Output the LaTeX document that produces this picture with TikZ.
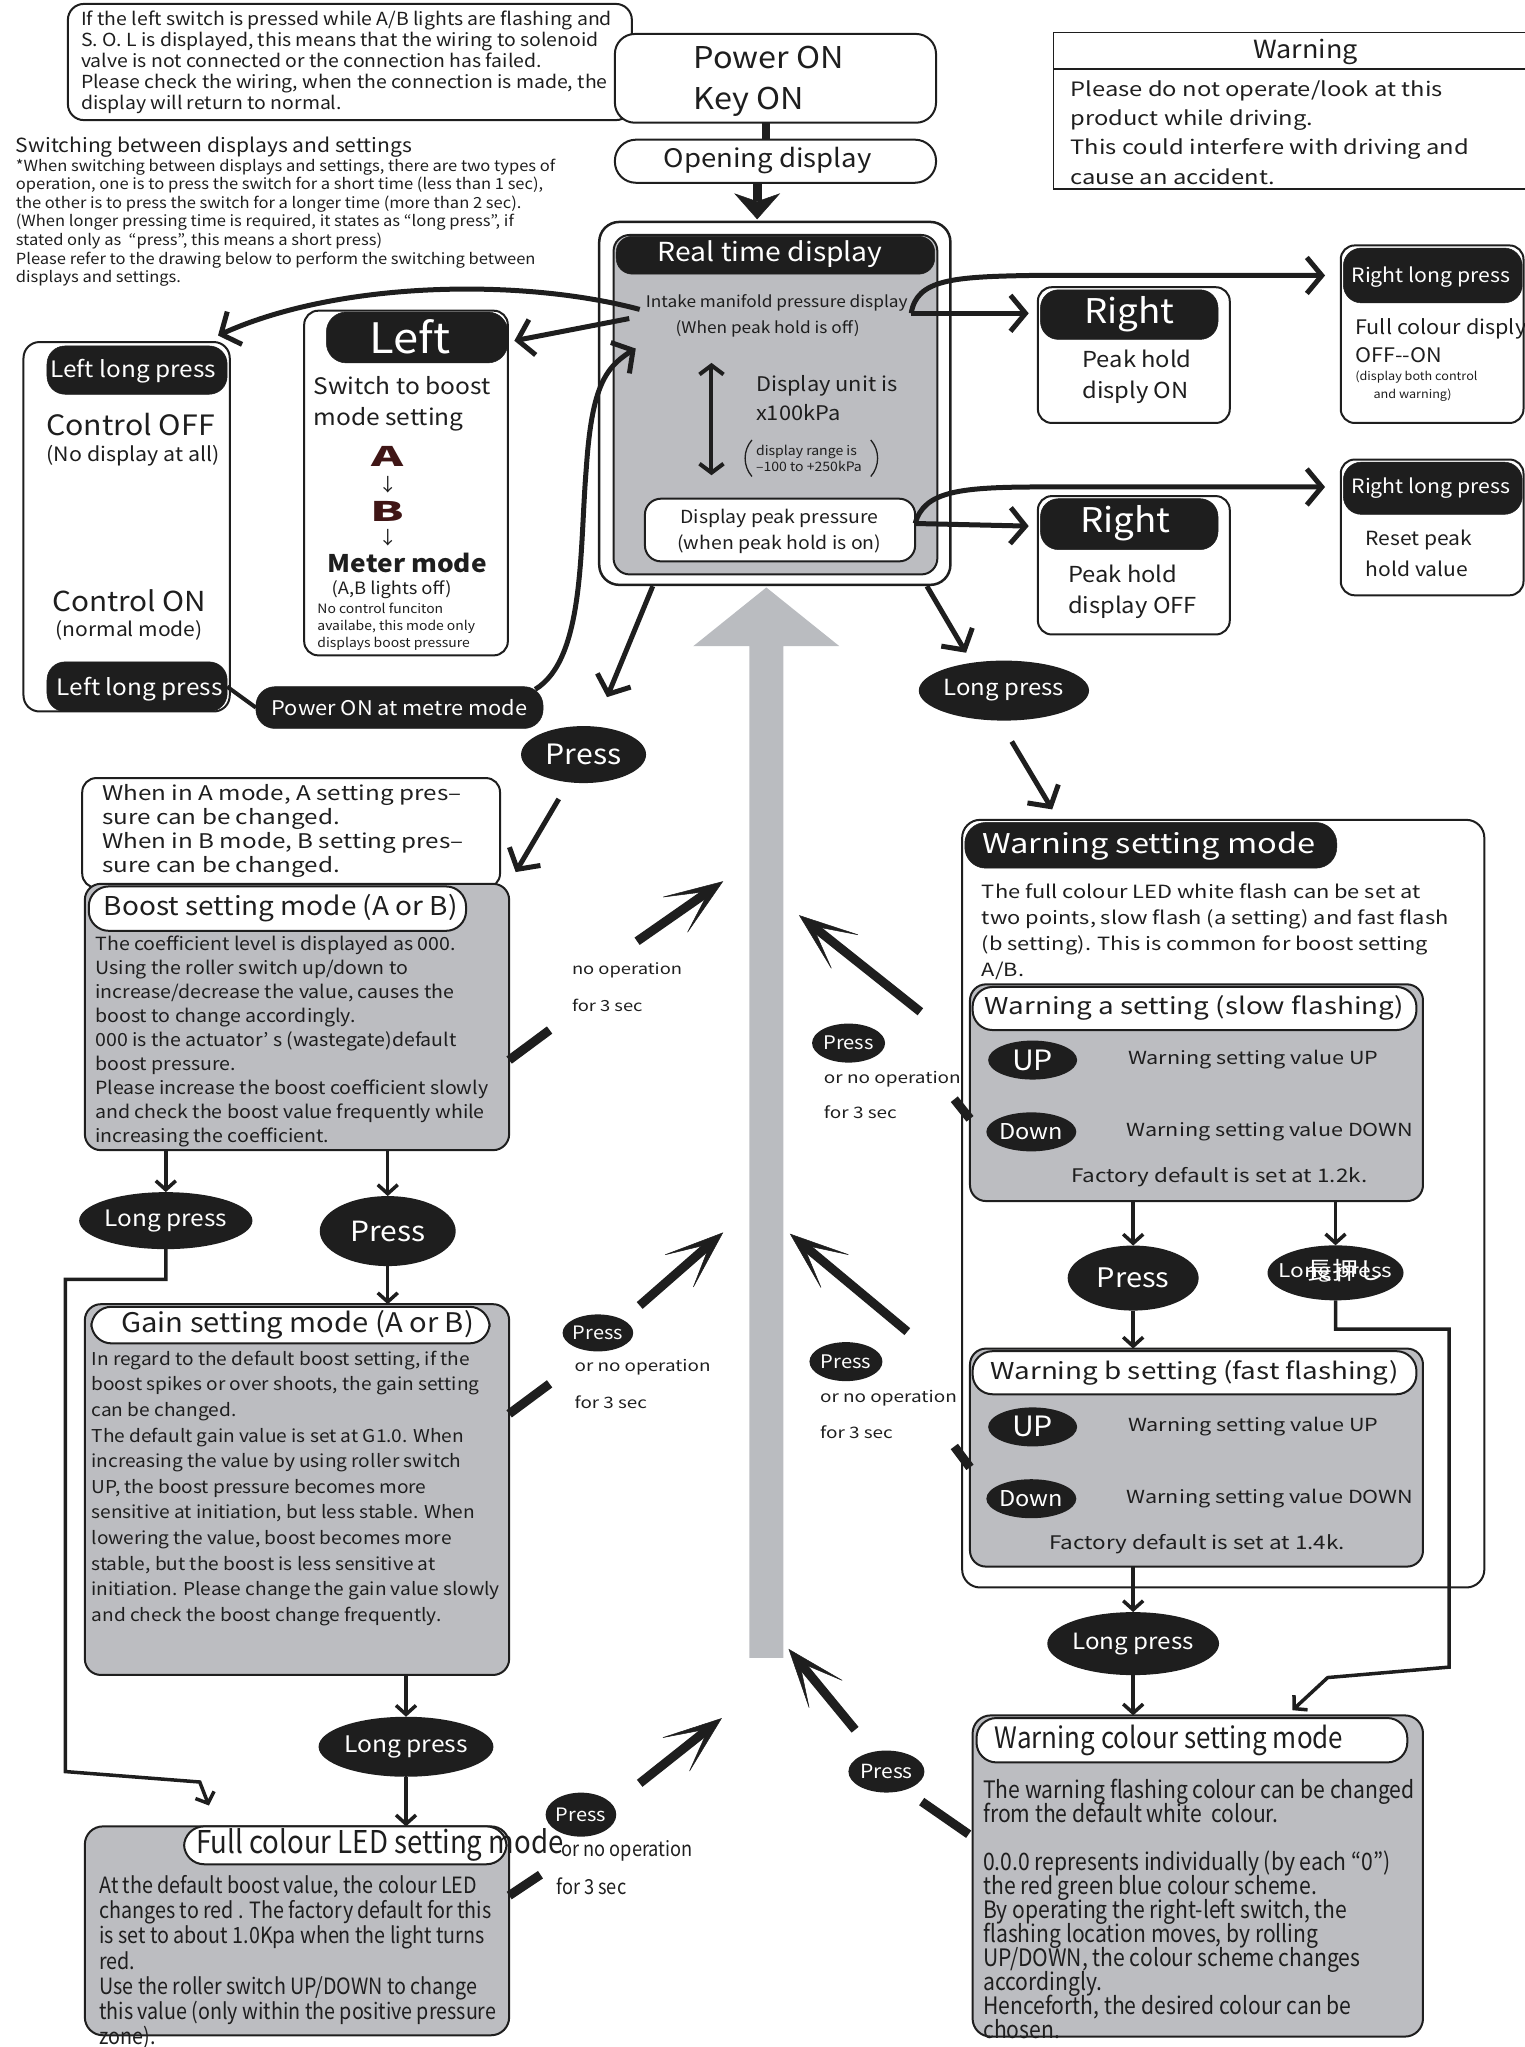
\documentclass[tikz,border=0pt]{standalone}
\usepackage{fontspec}
\setmainfont{Noto Sans CJK JP}[FakeStretch=1.08]
\newfontfamily\wide{Noto Sans CJK JP}[FakeStretch=1.2]
\newfontfamily\cond{Noto Sans CJK JP}[FakeStretch=0.88]
\newfontfamily\xw{Noto Sans CJK JP}[FakeStretch=1.8]
\usetikzlibrary{arrows.meta,fit,shapes.geometric,calc}
\newcommand\fs[2]{\fontsize{#1pt}{#2pt}\selectfont\lineskiplimit=-100pt\lineskip=0pt\relax}
\definecolor{ink}{RGB}{30,30,30}
\definecolor{gboxc}{RGB}{188,189,193}
\definecolor{gshaft}{RGB}{186,188,192}
\definecolor{abred}{RGB}{64,22,22}
\tikzset{
 bx/.style={draw=ink, line width=2pt, rounded corners=14pt, inner sep=0pt, outer sep=0pt, fill=white},
 gb/.style={bx, fill=gboxc},
 bk/.style={fill=ink, draw=ink, line width=0.5pt, inner sep=0pt, outer sep=0pt, rounded corners=18pt},
 pl/.style={bx, rounded corners=20pt},
 tx/.style={inner sep=0pt, text=ink, align=left},
 tc/.style={inner sep=0pt, text=ink, align=center},
 wt/.style={inner sep=0pt, text=white, align=center},
 ov/.style={ellipse, fill=ink, inner sep=0pt, outer sep=0pt, text=white},
 fl/.style={line width=3.5pt, draw=ink, -{Straight Barb[length=9pt,width=20pt]}},
 cv/.style={line width=5pt, draw=ink, -{Straight Barb[length=15pt,width=36pt]}},
 barline/.style={line width=9pt, draw=ink},
 bigarr/.style={line width=9pt, draw=ink, -{Stealth[length=62pt,width=46pt,inset=44pt,line width=0.5pt]}},
}
\begin{document}
\begin{tikzpicture}[x=1.3057pt,y=-1.3057pt]
\useasboundingbox (0,0) rectangle (1168,1568);

% big grey arrow
\fill[gshaft] (574,1270) -- (574,495) -- (531,495) -- (587,450) -- (643,495) -- (600,495) -- (600,1270) -- cycle;

% top note
\node[bx, rounded corners=16pt, fit={(52,3)(484,92)}] (note) {};
\node[tx, anchor=west, font=\fs{18}{21}] (notet) at (62,48) {If the left switch is pressed while A/B lights are flashing and\\S. O. L is displayed, this means that the wiring to solenoid\\valve is not connected or the connection has failed.\\Please check the wiring, when the connection is made, the\\display will return to normal.};

% power / opening
\node[bx, rounded corners=20pt, fit={(471,26)(717,94)}] (power) {};
\node[tx, anchor=west, font=\fs{30}{41}] (powert) at (531,62) {Power ON\\Key ON};
\node[bx, rounded corners=21pt, fit={(471,107)(717,140)}] (opening) {};
\node[tc, font=\fs{25.5}{30}] (openingt) at (588,123) {Opening display};
\coordinate (pwc) at (587,100);
\draw[line width=8pt, draw=ink] (power.south -| pwc) -- (opening.north -| pwc);
\coordinate (rtarr) at (580,168);
\draw[line width=9pt, draw=ink, -{Stealth[length=26pt,width=46pt,inset=8pt,line width=0.5pt]}] (opening.south -| rtarr) -- (rtarr);

% warning box
\node[draw=ink, line width=1.6pt, inner sep=0pt, fit={(807,25)(1175,145)}] (warn) {};
\draw[line width=1.6pt, draw=ink] (807,53) -- (1175,53);
\node[tc, font=\fs{25}{28}] (warnt) at (1000,40) {Warning};
\node[tx, anchor=west, font=\wide\fs{19.8}{29.4}] (warnb) at (820,101.5) {Please do not operate/look at this\\product while driving.\\This could interfere with driving and\\cause an accident.};

% switching text
\node[tx, anchor=west, font=\fs{19.5}{24}] (swh) at (12,113) {Switching between displays and settings};
\node[tx, anchor=west, font=\fs{15.3}{18.6}] (swt) at (12,170.5) {*When switching between displays and settings, there are two types of\\operation, one is to press the switch for a short time (less than 1 sec),\\the other is to press the switch for a longer time (more than 2 sec).\\(When longer pressing time is required, it states as “long press”, if\\stated only as \ “press”, this means a short press)\\Please refer to the drawing below to perform the switching between\\displays and settings.};

% real time display
\node[bx, line width=2.5pt, rounded corners=20pt, fit={(459,170)(728,448)}] (rtout) {};
\node[gb, rounded corners=16pt, fit={(470,180)(718,440)}] (rtin) {};
\node[bk, rounded corners=16pt, fit={(472,181)(716,210)}] (rthead) {};
\node[wt, font=\fs{26.2}{30}] (rtt) at (590,195) {Real time display};
\node[tc, font=\fs{16}{20}] (intake) at (595,232) {Intake manifold pressure display};
\node[tc, font=\fs{16}{20}] (intake2) at (588,252) {(When peak hold is off)};
\coordinate (dA) at (545,278); \coordinate (dB) at (545,364);
\draw[line width=4pt, draw=ink, {Straight Barb[length=9pt,width=24pt]}-{Straight Barb[length=9pt,width=24pt]}] (dA) -- (dB);
\node[tx, anchor=west, font=\fs{20.2}{28.7}] (unit) at (579,305) {Display unit is\\x100kPa};
\node[tx, anchor=west, font=\fs{13}{15.5}] (range) at (579,351) {display range is\\–100 to +250kPa};
\draw[line width=1.3pt, draw=ink] (576,337) .. controls (569,345) and (569,357) .. (576,365);
\draw[line width=1.3pt, draw=ink] (667,337) .. controls (674,345) and (674,357) .. (667,365);
\node[bx, rounded corners=16pt, fit={(494,382)(701,430)}] (peak) {};
\node[tc, font=\fs{18}{26}] (peakt) at (597,407) {Display peak pressure\\(when peak hold is on)};

% right boxes
\node[bx, fit={(795,220)(942,324)}] (r1) {};
\node[bk, fit={(797,222)(933,260)}] (r1h) {};
\node[wt, font=\fs{34}{38}] (r1t) at (865,241) {Right};
\node[tx, anchor=west, font=\fs{22}{31}] (r1b) at (829,289) {Peak hold\\disply ON};
\node[bx, fit={(795,380)(942,486)}] (r2) {};
\node[bk, fit={(797,382)(933,421)}] (r2h) {};
\node[wt, font=\fs{34}{38}] (r2t) at (862,401) {Right};
\node[tx, anchor=west, font=\fs{22}{31}] (r2b) at (818,453.5) {Peak hold\\display OFF};

\node[bx, fit={(1027,188)(1167,324)}] (rl1) {};
\node[bk, fit={(1029,190)(1166,232)}] (rl1h) {};
\node[wt, font=\fs{19.7}{22}] (rl1t) at (1096,212) {Right long press};
\node[tx, anchor=west, font=\fs{20}{28.7}] (rl1b) at (1038,261) {Full colour disply\\OFF-{}-ON};
\node[tx, anchor=west, font=\fs{11.7}{14}] (rl1s) at (1038,289) {(display both control};
\node[tx, anchor=west, font=\fs{11.7}{14}] (rl1s2) at (1052,303) {and warning)};
\node[bx, fit={(1027,352)(1167,456)}] (rl2) {};
\node[bk, fit={(1029,354)(1166,394)}] (rl2h) {};
\node[wt, font=\fs{19.7}{22}] (rl2t) at (1096,374) {Right long press};
\node[tx, anchor=west, font=\fs{19.5}{31}] (rl2b) at (1046,424) {Reset peak\\hold value};

% left box
\node[bx, fit={(233,238)(389,502)}] (lbox) {};
\node[bk, rounded corners=20pt, fit={(250,239)(389,278)}] (lhead) {};
\node[wt, font=\fs{42}{44}] (lt) at (314,258) {Left};
\node[tx, anchor=west, font=\fs{22.7}{31}] (lb) at (240,309) {Switch to boost\\mode setting};
\node[tc, font=\xw\bfseries\fs{27}{28}, text=abred] (la) at (297,350) {A};
\node[tc, font=\fs{18}{20}] (ld1) at (297,371) {↓};
\node[tc, font=\xw\bfseries\fs{27}{28}, text=abred] (lbb) at (297,392) {B};
\node[tc, font=\fs{18}{20}] (ld2) at (297,412) {↓};
\node[tc, font=\bfseries\fs{24.3}{26}] (lm) at (312,431) {Meter mode};
\node[tc, font=\fs{17}{20}] (lo) at (300,452) {(A,B lights off)};
\node[tx, anchor=west, font=\fs{12.9}{17}] (ls) at (243,480) {No control funciton\\availabe, this mode only\\displays boost pressure};

% left long press box
\node[bx, rounded corners=16pt, fit={(18,262)(176,545)}] (llp) {};
\node[bk, fit={(36,265)(174,302)}] (llph1) {};
\node[wt, font=\fs{22.6}{24}] (llpt1) at (102,284) {Left long press};
\node[tc, font=\fs{28}{30}] (coff) at (100,325) {Control OFF};
\node[tc, font=\fs{19.8}{22}] (coff2) at (102,349) {(No display at all)};
\node[tc, font=\fs{27.5}{30}] (con) at (99,460) {Control ON};
\node[tc, font=\fs{19.5}{22}] (con2) at (99,483) {(normal mode)};
\node[bk, fit={(36,507)(174,545)}] (llph2) {};
\node[wt, font=\fs{22.6}{24}] (llpt2) at (107,528) {Left long press};
\node[bk, rounded corners=19pt, fit={(196,526)(416,558)}] (pom) {};
\node[wt, font=\fs{20.2}{22}] (pomt) at (306,542) {Power ON at metre mode};
\draw[line width=4pt, draw=ink] (llph2.east) -- (pom.west);

% connectors from real time display
\coordinate (iR) at (698,240);
\coordinate (rl1a) at (1015,211);
\coordinate (r1a) at (788,240);
\draw[cv] (iR) .. controls (702,214) and (730,212) .. (790,211) -- (rl1a);
\draw[cv] (iR) -- (r1a);
\coordinate (pR) at (701,401);
\coordinate (rl2a) at (1015,373);
\coordinate (r2a) at (788,403);
\draw[cv] (pR) .. controls (708,376) and (735,373) .. (800,373) -- (rl2a);
\draw[cv] (pR) -- (r2a);
\coordinate (iL) at (490,237);
\coordinate (llpa) at (167,257);
\draw[cv] (iL) .. controls (400,213) and (260,215) .. (llpa);
\coordinate (iL2) at (482,244);
\coordinate (la2) at (394,261);
\draw[cv] (iL2) -- (la2);
\coordinate (pomS) at (410,528);
\coordinate (rtL) at (487,267);
\draw[cv] (pomS) .. controls (448,505) and (444,420) .. (449,360) .. controls (453,300) and (462,282) .. (rtL);

% press / long press under real time
\node[ov, minimum width=125pt, minimum height=57pt, font=\fs{28}{30}] (p0) at (447,578) {Press};
\node[ov, minimum width=127pt, minimum height=60pt, font=\fs{22.2}{24}] (lp0) at (769,529) {Long press};
\coordinate (c1) at (500,449); \coordinate (c2) at (465,534);
\draw[cv] (c1) -- (c2);
\coordinate (c3) at (428,612); \coordinate (c4) at (395,668);
\draw[cv] (c3) -- (c4);
\coordinate (c5) at (710,449); \coordinate (c6) at (740,500);
\draw[cv] (c5) -- (c6);
\coordinate (c7) at (775,568); \coordinate (c8) at (806,620);
\draw[cv] (c7) -- (c8);

% boost note + boost box
\node[bx, fit={(63,596)(383,680)}] (bnote) {};
\node[tx, anchor=west, font=\wide\fs{20.2}{24}] (bnotet) at (78,636.5) {When in A mode, A setting pres–\\sure can be changed.\\When in B mode, B setting pres–\\sure can be changed.};
\node[gb, rounded corners=16pt, fit={(65,677)(390,881)}] (boost) {};
\node[pl, fit={(68,679)(357,713)}] (boostp) {};
\node[tc, font=\fs{25.9}{28}] (boostt) at (215,696) {Boost setting mode (A or B)};
\node[tx, anchor=west, font=\fs{18.1}{24}] (boostb) at (73,797.5) {The coefficient level is displayed as 000.\\Using the roller switch up/down to\\increase/decrease the value, causes the\\boost to change accordingly.\\000 is the actuator’ s (wastegate)default\\boost pressure.\\Please increase the boost coefficient slowly\\and check the boost value frequently while\\increasing the coefficient.};

\node[ov, minimum width=149pt, minimum height=57pt, font=\fs{22.6}{24}] (lp1) at (127,935) {Long press};
\node[ov, minimum width=136pt, minimum height=70pt, font=\fs{27.8}{30}] (pr1) at (297,943) {Press};
\draw[fl] (boost.south -| lp1.north) -- (lp1.north);
\draw[fl] (boost.south -| pr1.north) -- (pr1.north);

% gain box
\node[gb, rounded corners=16pt, fit={(65,999)(390,1283)}] (gain) {};
\node[pl, fit={(70,1001)(375,1029)}] (gainp) {};
\node[tc, font=\fs{27}{28}] (gaint) at (228,1015) {Gain setting mode (A or B)};
\node[tx, anchor=west, font=\fs{17.7}{25.6}] (gainb) at (70,1140) {In regard to the default boost setting, if the\\boost spikes or over shoots, the gain setting\\can be changed.\\The default gain value is set at G1.0. When\\increasing the value by using roller switch\\UP, the boost pressure becomes more\\sensitive at initiation, but less stable. When\\lowering the value, boost becomes more\\stable, but the boost is less sensitive at\\initiation. Please change the gain value slowly\\and check the boost change frequently.};
\draw[fl] (pr1.south) -- (pr1.south |- gain.north);

\node[ov, minimum width=144pt, minimum height=60pt, font=\fs{22.8}{24}] (lp2) at (311,1338) {Long press};
\draw[fl] (gain.south -| lp2.north) -- (lp2.north);

% full colour LED box
\node[gb, rounded corners=18pt, fit={(65,1399)(390,1559)}] (fc) {};
\node[pl, fit={(141,1399)(388,1428)}] (fcp) {};
\node[tx, anchor=west, font=\cond\fs{31.4}{32}] (fct) at (150,1413) {Full colour LED setting mode};
\node[tx, anchor=west, font=\cond\fs{22.4}{25.3}] (fcb) at (76,1503) {At the default boost value, the colour LED\\changes to red . The factory default for this\\is set to about 1.0Kpa when the light turns\\red.\\Use the roller switch UP/DOWN to change\\this value (only within the positive pressure\\zone).};
\draw[fl] (lp2.south) -- (lp2.south |- fc.north);
\coordinate (fcarr) at (160,1383);
\draw[fl] (lp1.south) |- (50,980) -- (50,1357) -- (153,1365) -- (fcarr);

% diagonal return arrows (left side)
\draw[barline] (390,812) -- (421,789);
\node[tx, anchor=west, font=\wide\fs{15.3}{20}] (no1) at (438,743) {no operation};
\node[tx, anchor=west, font=\wide\fs{15.3}{20}] (no1b) at (438,770) {for 3 sec};
\coordinate (a1s) at (488,721); \coordinate (a1e) at (554,675);
\draw[bigarr] (a1s) -- (a1e);

\draw[barline] (390,1083) -- (421,1060);
\node[ov, minimum width=70pt, minimum height=37pt, font=\fs{18.5}{20}] (pg) at (458,1021) {Press};
\node[tx, anchor=west, font=\wide\fs{15.7}{20}] (no2) at (440,1047) {or no operation};
\node[tx, anchor=west, font=\wide\fs{15.7}{20}] (no2b) at (440,1074) {for 3 sec};
\coordinate (a2s) at (490,1000); \coordinate (a2e) at (554,944);
\draw[bigarr] (a2s) -- (a2e);

\draw[barline] (390,1452) -- (414,1436);
\node[ov, minimum width=66pt, minimum height=44pt, font=\fs{18.5}{20}] (pf) at (445,1390) {Press};
\node[tx, anchor=west, font=\cond\fs{20.7}{22}] (no3) at (430,1418) {or no operation};
\node[tx, anchor=west, font=\cond\fs{20.7}{22}] (no3b) at (426,1445) {for 3 sec};
\coordinate (a3s) at (490,1366); \coordinate (a3e) at (553,1316);
\draw[bigarr] (a3s) -- (a3e);

% warning setting mode
\node[bx, rounded corners=18pt, fit={(737,628)(1137,1216)}] (wsm) {};
\node[bk, rounded corners=21pt, fit={(739,630)(1024,665)}] (wsmh) {};
\node[wt, font=\wide\fs{27.2}{30}] (wsmt) at (880,648) {Warning setting mode};
\node[tx, anchor=west, font=\wide\fs{18.2}{26}] (wsmb) at (752,714) {The full colour LED white flash can be set at\\two points, slow flash (a setting) and fast flash\\(b setting). This is common for boost setting\\A/B.};

\node[gb, rounded corners=16pt, fit={(743,754)(1090,920)}] (wa) {};
\node[pl, fit={(745,756)(1085,789)}] (wap) {};
\node[tc, font=\wide\fs{23.2}{26}] (wat) at (915,772) {Warning a setting (slow flashing)};
\node[ov, minimum width=89pt, minimum height=39pt, font=\fs{28}{30}] (waup) at (791,812) {UP};
\node[tx, anchor=west, font=\wide\fs{18}{22}] (waupt) at (864,812) {Warning setting value UP};
\node[ov, minimum width=89pt, minimum height=39pt, font=\fs{21.8}{24}] (wadn) at (790,867) {Down};
\node[tx, anchor=west, font=\wide\fs{18}{22}] (wadnt) at (863,867) {Warning setting value DOWN};
\node[tc, font=\wide\fs{18.7}{22}] (waf) at (934,902) {Factory default is set at 1.2k.};

\node[ov, minimum width=131pt, minimum height=65pt, font=\fs{26.9}{28}] (pw) at (868,979) {Press};
\node[ov, minimum width=136pt, minimum height=55pt] (lpj) at (1023,975) {};
\node[wt, font=\wide\fs{18.9}{20}] (lpjt) at (lpj) {Long press};
\node[wt, font=\fs{24}{28}] (lpjk) at ([xshift=10pt,yshift=2pt]lpj.center) {長押し};

\node[gb, rounded corners=16pt, fit={(743,1033)(1090,1200)}] (wb) {};
\node[pl, fit={(745,1035)(1085,1068)}] (wbp) {};
\node[tc, font=\wide\fs{23.2}{26}] (wbt) at (915,1052) {Warning b setting (fast flashing)};
\node[ov, minimum width=89pt, minimum height=39pt, font=\fs{28}{30}] (wbup) at (791,1093) {UP};
\node[tx, anchor=west, font=\wide\fs{18}{22}] (wbupt) at (864,1093) {Warning setting value UP};
\node[ov, minimum width=89pt, minimum height=39pt, font=\fs{21.8}{24}] (wbdn) at (790,1148) {Down};
\node[tx, anchor=west, font=\wide\fs{18}{22}] (wbdnt) at (863,1148) {Warning setting value DOWN};
\node[tc, font=\wide\fs{18.7}{22}] (wbf) at (917,1183) {Factory default is set at 1.4k.};

\draw[fl] (wa.south -| pw.north) -- (pw.north);
\draw[fl] (pw.south) -- (pw.south |- wb.north);
\draw[fl] (wa.south -| lpj.north) -- (lpj.north);

\node[ov, minimum width=149pt, minimum height=63pt, font=\fs{22.4}{24}] (lpw) at (868,1259) {Long press};
\draw[fl] (wb.south -| lpw.north) -- (lpw.north);

% warning colour
\node[gb, rounded corners=18pt, fit={(745,1314)(1090,1560)}] (wc) {};
\node[pl, fit={(748,1316)(1078,1350)}] (wcp) {};
\node[tx, anchor=west, font=\cond\fs{29.5}{32}] (wct) at (762,1333) {Warning colour setting mode};
\node[tx, anchor=west, font=\cond\fs{24}{24}] (wcb) at (753,1462) {The warning flashing colour can be changed\\from the default white \ colour.\\\mbox{}\\0.0.0 represents individually (by each “0”)\\the red green blue colour scheme.\\By operating the right-left switch, the\\flashing location moves, by rolling\\UP/DOWN, the colour scheme changes\\accordingly.\\Henceforth, the desired colour can be\\chosen.};
\draw[fl] (lpw.south) -- (lpw.south |- wc.north);
\coordinate (wcarr) at (990,1310);
\draw[fl] (lpj.south) |- (1110,1018) -- (1110,1277) -- (1017,1285) -- (wcarr);

% diagonal return arrows (right side)
\draw[barline] (731,842) -- (743,857);
\node[ov, minimum width=73pt, minimum height=39pt, font=\fs{18.7}{20}] (pa) at (650,799) {Press};
\node[tx, anchor=west, font=\wide\fs{15.8}{20}] (no4) at (631,827) {or no operation};
\node[tx, anchor=west, font=\wide\fs{15.8}{20}] (no4b) at (631,852) {for 3 sec};
\coordinate (a4s) at (705,775); \coordinate (a4e) at (612,701);
\draw[bigarr] (a4s) -- (a4e);

\draw[barline] (731,1108) -- (743,1124);
\node[ov, minimum width=73pt, minimum height=39pt, font=\fs{18.7}{20}] (pb) at (648,1043) {Press};
\node[tx, anchor=west, font=\wide\fs{15.8}{20}] (no5) at (628,1071) {or no operation};
\node[tx, anchor=west, font=\wide\fs{15.8}{20}] (no5b) at (628,1097) {for 3 sec};
\coordinate (a5s) at (695,1020); \coordinate (a5e) at (605,945);
\draw[bigarr] (a5s) -- (a5e);

\draw[barline] (706,1380) -- (742,1405);
\node[ov, minimum width=76pt, minimum height=42pt, font=\fs{19.5}{20}] (pc) at (679,1357) {Press};
\coordinate (a6s) at (655,1325); \coordinate (a6e) at (604,1263);
\draw[bigarr] (a6s) -- (a6e);

\end{tikzpicture}
\end{document}
